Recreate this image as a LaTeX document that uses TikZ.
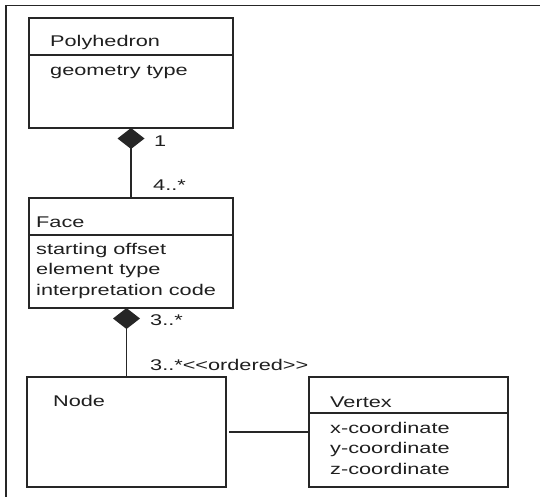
\documentclass[tikz,border=0pt]{standalone}
\usepackage{fontspec}
\setmainfont{Liberation Sans}
\usetikzlibrary{arrows.meta}
\newcommand{\wide}[1]{\scalebox{1.40}[1]{#1}}
\tikzset{
  umlbox/.style={draw=black!85, line width=1.2pt, rectangle, inner sep=0pt, outer sep=0pt, anchor=north west},
  lbl/.style={inner sep=0pt, anchor=base west, text=black!88, font=\fontsize{15.5}{20.5}\selectfont},
  assoc/.style={draw=black!85, line width=1.3pt},
  comp/.style={assoc, -{Diamond[length=21pt,width=27pt]}}
}
\begin{document}
\begin{tikzpicture}[x=1pt,y=-1pt]
\useasboundingbox (0,0) rectangle (540,497);
% frame
\draw[line width=1.5pt, black!85] (540,5.5) -- (6,5.5) -- (6,497);

% classes
\node[umlbox, minimum width=204pt, minimum height=110pt] (polyhedron) at (29,18) {};
\draw[assoc] (polyhedron.west |- 0,55) -- (polyhedron.east |- 0,55);
\node[lbl] (polyname) at (50,47) {\wide{Polyhedron}};
\node[lbl] (polyattr) at (50,76) {\wide{geometry type}};

\node[umlbox, minimum width=204pt, minimum height=110pt] (face) at (29,198) {};
\draw[assoc] (face.west |- 0,235) -- (face.east |- 0,235);
\node[lbl] (facename) at (36,227) {\wide{Face}};
\node[lbl] (faceattr) at (36,254) {\wide{\begin{tabular}[t]{@{}l@{}}starting offset\\element type\\interpretation code\end{tabular}}};

\node[umlbox, minimum width=199pt, minimum height=110pt] (nodecls) at (27,377) {};
\node[lbl] (nodename) at (53,406) {\wide{Node}};

\node[umlbox, minimum width=199pt, minimum height=110pt] (vertex) at (309,377) {};
\draw[assoc] (vertex.west |- 0,413) -- (vertex.east |- 0,413);
\node[lbl] (vertexname) at (330,407) {\wide{Vertex}};
\node[lbl] (vertexattr) at (330,433) {\wide{\begin{tabular}[t]{@{}l@{}}x-coordinate\\y-coordinate\\z-coordinate\end{tabular}}};

% associations
\draw[comp] (face.north) -- (polyhedron.south);
\draw[comp] (nodecls.north) -- (nodecls.north |- face.south);
\draw[assoc, shorten <=3pt] (nodecls.east) -- (vertex.west);

% multiplicities
\node[lbl] (mult1) at (154,147) {\wide{1}};
\node[lbl] (mult2) at (153,190) {\wide{4..*}};
\node[lbl] (mult3) at (150,325) {\wide{3..*}};
\node[lbl] (mult4) at (150,370) {\wide{3..*<{}<ordered>{}>}};
\end{tikzpicture}
\end{document}
